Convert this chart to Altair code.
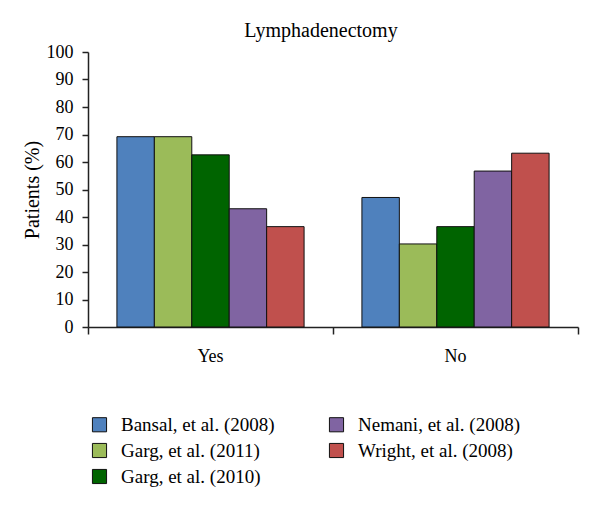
import altair as alt
import pandas as pd

categories = ["Yes", "No"]
studies = ["Bansal, et al. (2008)", "Garg, et al. (2011)", "Garg, et al. (2010)",
           "Nemani, et al. (2008)", "Wright, et al. (2008)"]
colors = ["#4F81BD", "#9BBB59", "#006400", "#8064A2", "#C0504D"]
yes_values = [69.2, 69.2, 62.6, 43.0, 36.5]
no_values = [47.1, 30.2, 36.5, 56.7, 63.2]
tick_positions = [0, 1, 2]

rows = []
for s, v in zip(studies, yes_values):
    rows.append({"Category": "Yes", "Study": s, "Value": v})
for s, v in zip(studies, no_values):
    rows.append({"Category": "No", "Study": s, "Value": v})
df = pd.DataFrame(rows)

FONT = "Liberation Serif"

bars = alt.Chart(df).mark_bar(stroke="#111111", strokeWidth=1).encode(
    x=alt.X("Category:N", sort=categories,
            scale=alt.Scale(paddingInner=0.236, paddingOuter=0.118),
            axis=alt.Axis(title=None, orient="bottom", ticks=False, domain=False,
                          labelAngle=0, labelFont=FONT, labelFontSize=18,
                          labelColor="#000000", labelPadding=20)),
    xOffset=alt.XOffset("Study:N", sort=studies, scale=alt.Scale(paddingInner=0, paddingOuter=0)),
    y=alt.Y("Value:Q", scale=alt.Scale(domain=[0, 100]),
            axis=alt.Axis(title="Patients (%)", values=list(range(0, 101, 10)),
                          grid=False, tickSize=6, tickColor="#222222",
                          domainColor="#222222", domainWidth=1.5, tickWidth=1.5,
                          labelFont=FONT, labelFontSize=18, labelColor="#000000",
                          labelPadding=9, titleFont=FONT, titleFontSize=20,
                          titleFontWeight="normal", titleColor="#000000",
                          titlePadding=4)),
    color=alt.Color("Study:N", scale=alt.Scale(domain=studies, range=colors),
                    legend=alt.Legend(title=None, orient="none", legendX=2, legendY=363,
                                      columns=2, columnPadding=52, rowPadding=6,
                                      symbolType="square", symbolSize=200,
                                      symbolStrokeColor="#111111", symbolStrokeWidth=1,
                                      symbolOpacity=1,
                                      labelFont=FONT, labelFontSize=19,
                                      labelColor="#000000", labelOffset=12,
                                      labelLimit=300)),
)

ticks_df = pd.DataFrame({"pos": tick_positions})
ticks = alt.Chart(ticks_df).mark_point(opacity=0).encode(
    x=alt.X("pos:Q", scale=alt.Scale(domain=[0, 2], nice=False, zero=False),
            axis=alt.Axis(title=None, orient="bottom", values=tick_positions,
                          labels=False, grid=False, tickSize=7, tickWidth=1.5,
                          tickColor="#222222", domainColor="#222222",
                          domainWidth=1.5)),
)

chart = alt.layer(bars, ticks).resolve_scale(x="independent").properties(
    width=490, height=275,
    padding={"left": 80, "top": 44, "right": 10, "bottom": 172},
    autosize=alt.AutoSizeParams(type="none"),
    title=alt.TitleParams("Lymphadenectomy", font=FONT, fontSize=20,
                          fontWeight="normal", color="#000000",
                          anchor="middle", dx=-12, offset=2),
).configure_view(stroke=None)

chart.save("out.html", embed_options={"renderer": "svg", "actions": False})
